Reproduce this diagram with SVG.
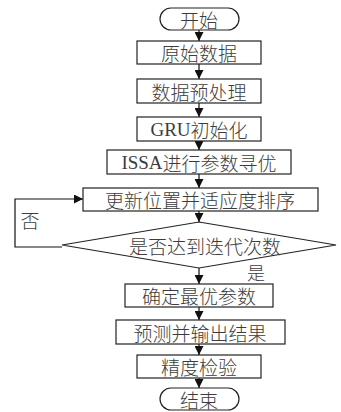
<svg xmlns="http://www.w3.org/2000/svg" width="341" height="412" viewBox="0 0 341 412">
<defs>
<marker id="ah" markerUnits="userSpaceOnUse" markerWidth="9" markerHeight="9" refX="9" refY="4.5" orient="auto">
<path d="M0,0 L9,4.5 L0,9 z" fill="#111"/>
</marker>
<style>
.n{fill:#fff;stroke:#222;stroke-width:1.2}
.t{font-family:"Noto Sans CJK SC","Liberation Sans",sans-serif;font-size:19px;font-weight:300;fill:#3c3c3c;text-anchor:middle;dominant-baseline:central}
.s{font-family:"Liberation Serif",serif;font-weight:400}
.c{fill:none;stroke:#111;stroke-width:1.2}
</style>
</defs>
<rect width="341" height="412" fill="#fff"/>
<g id="connectors">
<line class="c" x1="199" y1="30" x2="199" y2="41" marker-end="url(#ah)"/>
<line class="c" x1="199" y1="64" x2="199" y2="79" marker-end="url(#ah)"/>
<line class="c" x1="199" y1="103" x2="199" y2="117" marker-end="url(#ah)"/>
<line class="c" x1="199" y1="141" x2="199" y2="150" marker-end="url(#ah)"/>
<line class="c" x1="199" y1="174" x2="199" y2="188" marker-end="url(#ah)"/>
<line class="c" x1="199" y1="211" x2="199" y2="222" marker-end="url(#ah)"/>
<line class="c" x1="199" y1="268" x2="199" y2="284" marker-end="url(#ah)"/>
<line class="c" x1="199" y1="307" x2="199" y2="320" marker-end="url(#ah)"/>
<line class="c" x1="199" y1="344" x2="199" y2="355" marker-end="url(#ah)"/>
<line class="c" x1="199" y1="378" x2="199" y2="388" marker-end="url(#ah)"/>
<polyline class="c" points="62,247 15,247 15,199 83,199" marker-end="url(#ah)"/>
<text class="t" x="30" y="219">否</text>
<text class="t" x="256" y="272" style="font-size:18px">是</text>
</g>
<g id="start"><rect class="n" x="160" y="8" width="79" height="22" rx="11"/><text class="t" x="199" y="19">开始</text></g>
<g id="raw"><rect class="n" x="137" y="41" width="124" height="23"/><text class="t" x="199" y="52.5">原始数据</text></g>
<g id="pre"><rect class="n" x="137" y="79" width="124" height="24"/><text class="t" x="199" y="91">数据预处理</text></g>
<g id="gru"><rect class="n" x="137" y="117" width="124" height="24"/><text class="t" x="199" y="129"><tspan class="s">GRU</tspan>初始化</text></g>
<g id="issa"><rect class="n" x="107" y="150" width="184" height="24"/><text class="t" x="199" y="162"><tspan class="s">ISSA</tspan>进行参数寻优</text></g>
<g id="update"><rect class="n" x="83" y="188" width="235" height="23"/><text class="t" x="200" y="199.5">更新位置并适应度排序</text></g>
<g id="check"><polygon class="n" points="199,222 336,245 199,268 62,245"/><text class="t" x="205" y="245">是否达到迭代次数</text></g>
<g id="best"><rect class="n" x="125" y="284" width="148" height="23"/><text class="t" x="199" y="295.5">确定最优参数</text></g>
<g id="predict"><rect class="n" x="116" y="320" width="169" height="24"/><text class="t" x="200" y="332">预测并输出结果</text></g>
<g id="acc"><rect class="n" x="137" y="355" width="124" height="23"/><text class="t" x="199" y="366.5">精度检验</text></g>
<g id="end"><rect class="n" x="160" y="388" width="79" height="22" rx="11"/><text class="t" x="199" y="399">结束</text></g>
</svg>
